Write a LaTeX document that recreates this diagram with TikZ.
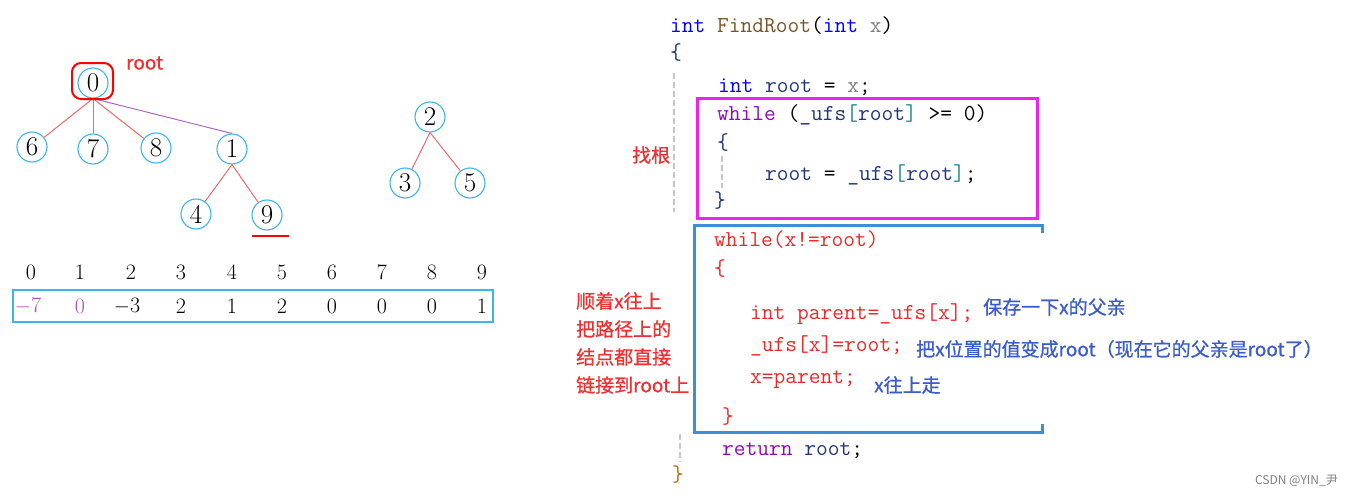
\documentclass[tikz,border=0pt]{standalone}
\usepackage{fontspec}
\newfontfamily\cjk{Noto Sans CJK SC}
\newfontfamily\cjkb{Noto Sans CJK SC}[FakeBold=0.8]
\definecolor{kwblue}{HTML}{0000FF}
\definecolor{fnbrown}{HTML}{7A5426}
\definecolor{pgray}{HTML}{808080}
\definecolor{kwpurple}{HTML}{8F08C4}
\definecolor{navy}{HTML}{1F377F}
\definecolor{teal2}{HTML}{1F8A8A}
\definecolor{codered}{HTML}{F02828}
\definecolor{bracebrown}{HTML}{B0700A}
\definecolor{notered}{HTML}{F03030}
\definecolor{noteblue}{HTML}{3A5CCC}
\definecolor{circblue}{HTML}{3DB5E8}
\definecolor{edgered}{HTML}{F06A6A}
\definecolor{edgepurple}{HTML}{B466C4}
\definecolor{valpurple}{HTML}{B050C0}
\definecolor{magbox}{HTML}{F020F0}
\definecolor{bluebox}{HTML}{3C8FDC}
\definecolor{dashgray}{HTML}{C8C8C8}
\begin{document}
\begin{tikzpicture}[x=1pt,y=-1pt,
  tnode/.style={circle,draw=circblue,line width=1.1pt,minimum size=30pt,inner sep=0pt,font=\fontsize{27}{27}\selectfont},
  tedge/.style={draw=edgered,line width=1pt},
  idx/.style={font=\fontsize{22}{22}\selectfont,inner sep=0pt},
  code/.style={anchor=base west,inner sep=0pt,font=\ttfamily\fontsize{22.8}{23}\selectfont},
  note/.style={anchor=west,inner sep=0pt,font=\cjkb\fontsize{19}{20}\selectfont},
  guide/.style={draw=dashgray,line width=1.5pt,dash pattern=on 6pt off 3pt}]
\useasboundingbox (0,0) rectangle (1353,498);
\fill[white] (0,0) rectangle (1353,498);

% ---- tree ----
\node[tnode] (n0) at (93,83) {0};
\node[tnode] (n6) at (32,147) {6};
\node[tnode] (n7) at (93,149) {7};
\node[tnode] (n8) at (156,148) {8};
\node[tnode] (n1) at (232,149) {1};
\node[tnode] (n4) at (196,214) {4};
\node[tnode] (n9) at (267,215) {9};
\node[tnode] (n2) at (430,117) {2};
\node[tnode] (n3) at (405,183) {3};
\node[tnode] (n5) at (470,183) {5};
\draw[tedge] (n0.south) -- (n6);
\draw[tedge] (n0.south) -- (n7);
\draw[tedge] (n0.south) -- (n8);
\draw[draw=edgepurple,line width=1pt] (n0.south) -- (n1.north);
\draw[tedge] (n1.south) -- (n4);
\draw[tedge] (n1.south) -- (n9);
\draw[tedge] (n2.south) -- (n3);
\draw[tedge] (n2.south) -- (n5);
\draw[red,line width=2pt,rounded corners=9pt] (72,63) rectangle (113,99);
\node[anchor=west,inner sep=0pt,text=notered,font=\cjkb\fontsize{19}{20}\selectfont] (rootlbl) at (126,63) {root};
\draw[red,line width=2pt] (252,236) -- (289,236);

% ---- array ----
\foreach \i/\xx in {0/31,1/80,2/131,3/181,4/232,5/282,6/332,7/382,8/432,9/482}{
  \node[idx] (i\i) at (\xx,272) {\i};
}
\draw[draw=circblue,line width=1.3pt] (13,290) rectangle (493,322);
\node[idx,text=valpurple] (v0) at (28,306) {$-$7};
\node[idx,text=valpurple] (v1) at (80,306) {0};
\node[idx] (v2) at (127,306) {$-$3};
\node[idx] (v3) at (181,306) {2};
\node[idx] (v4) at (232,306) {1};
\node[idx] (v5) at (282,306) {2};
\node[idx] (v6) at (332,306) {0};
\node[idx] (v7) at (382,306) {0};
\node[idx] (v8) at (432,306) {0};
\node[idx] (v9) at (482,306) {1};

% ---- code ----
\draw[guide] (674,73) -- (674,212);
\draw[guide] (722,156) -- (722,188);
\draw[guide] (680,434) -- (680,462);
\draw[draw=magbox,line width=3pt] (697,98) rectangle (1037,218);
\draw[draw=bluebox,line width=3pt] (1042,233) -- (1042,225) -- (694,225) -- (694,432) -- (1042,432) -- (1042,424);

\node[code] (c1) at (670,32) {\textcolor{kwblue}{int} \textcolor{fnbrown}{FindRoot}(\textcolor{kwblue}{int} \textcolor{pgray}{x})};
\node[code] (c2) at (670,59) {\textcolor{navy}{\{}};
\node[code] (c3) at (718,92) {\textcolor{kwblue}{int} \textcolor{navy}{root} = \textcolor{pgray}{x};};
\node[code] (c4) at (717,120) {\textcolor{kwpurple}{while} (\textcolor{navy}{\_ufs}\textcolor{teal2}{[}\textcolor{navy}{root}\textcolor{teal2}{]} >= 0)};
\node[code] (c5) at (717,149) {\textcolor{navy}{\{}};
\node[code] (c6) at (765,180) {\textcolor{navy}{root} = \textcolor{navy}{\_ufs}\textcolor{teal2}{[}\textcolor{navy}{root}\textcolor{teal2}{]};};
\node[code] (c7) at (714,207) {\textcolor{navy}{\}}};
\node[code,text=codered] (c8) at (714,246) {while(x!=root)};
\node[code,text=codered] (c9) at (714,275) {\{};
\node[code,text=codered] (c10) at (750,319) {int parent=\_ufs[x];};
\node[code,text=codered] (c11) at (750,351) {\_ufs[x]=root;};
\node[code,text=codered] (c12) at (750,383) {x=parent;};
\node[code,text=codered] (c13) at (722,423) {\}};
\node[code] (c14) at (722,455) {\textcolor{kwpurple}{return} \textcolor{navy}{root};};
\node[code,text=bracebrown] (c15) at (672,481) {\}};

% ---- notes ----
\node[note,text=notered] (zg) at (632,155) {找根};
\node[note,text=notered] (l1) at (576,301) {顺着x往上};
\node[note,text=notered] (l2) at (576,329) {把路径上的};
\node[note,text=notered] (l3) at (576,357) {结点都直接};
\node[note,text=notered] (l4) at (576,385) {链接到root上};
\node[note,text=noteblue] (b1) at (983,307) {保存一下x的父亲};
\node[note,text=noteblue] (b2) at (916,349) {把x位置的值变成root（现在它的父亲是root了）};
\node[note,text=noteblue] (b3) at (874,385) {x往上走};
\node[anchor=east,inner sep=0pt,text=pgray,font=\cjk\fontsize{12}{13}\selectfont] (wm) at (1338,481) {CSDN @YIN\_尹};
\end{tikzpicture}
\end{document}
